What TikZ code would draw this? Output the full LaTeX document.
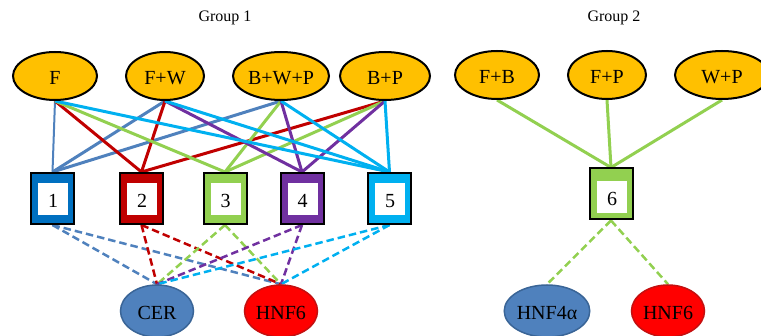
\documentclass[tikz,border=0pt]{standalone}
\usepackage{fontspec}
\setmainfont{Liberation Serif}
\usetikzlibrary{shapes.geometric,backgrounds}

\definecolor{gold}{HTML}{FFC000}
\definecolor{steel}{HTML}{4F81BD}
\definecolor{steeldark}{HTML}{3A6597}
\definecolor{boxblue}{HTML}{0070C0}
\definecolor{darkred}{HTML}{C00000}
\definecolor{hnfred}{HTML}{FF0000}
\definecolor{hnfedge}{HTML}{C41010}
\definecolor{lgreen}{HTML}{92D050}
\definecolor{purp}{HTML}{7030A0}
\definecolor{cyanish}{HTML}{00B0F0}

\begin{document}
\begin{tikzpicture}[x=1pt,y=-1pt,
  labelfont/.style={font=\fontsize{20}{24}\selectfont},
  topell/.style={ellipse,draw=black,line width=2pt,fill=gold,
    minimum width=#1,minimum height=48pt,inner sep=0pt,labelfont,
    text height=18pt,text depth=0pt},
  botell/.style 2 args={ellipse,draw=#2,line width=1.5pt,fill=#1,
    minimum width=73pt,minimum height=52pt,inner sep=0pt,labelfont,
    text height=18pt,text depth=0pt},
  outerbox/.style={rectangle,draw=black,line width=2pt,fill=#1,
    minimum width=43pt,minimum height=51pt,inner sep=0pt},
  innerbox/.style={rectangle,fill=white,minimum width=30pt,
    minimum height=32pt,inner sep=0pt,labelfont,
    text height=17.5pt,text depth=0pt},
  solidlink/.style={draw=#1,line width=3pt},
  dashlink/.style={draw=#1,line width=2.5pt,dash pattern=on 7.5pt off 4pt},
  grouptitle/.style={font=\fontsize{16}{19}\selectfont}
]
\useasboundingbox (0,0) rectangle (761,336);

% group titles
\node[grouptitle] (g1) at (225,18) {Group 1};
\node[grouptitle] (g2) at (614,18) {Group 2};

% treatment ellipses, group 1
\node[topell=84pt] (tF)   at (55,76)  {F};
\node[topell=78pt] (tFW)  at (165,76) {F+W};
\node[topell=96pt] (tBWP) at (281,76) {B+W+P};
\node[topell=90pt] (tBP)  at (385,76) {B+P};

% treatment ellipses, group 2
\node[topell=84pt] (tFB) at (497,75) {F+B};
\node[topell=78pt] (tFP) at (607,75) {F+P};
\node[topell=94pt] (tWP) at (722,75) {W+P};

% cluster boxes
\node[outerbox=boxblue]  (b1) at (52.5,198.5) {};
\node[innerbox] (n1) at (53,199) {1};
\node[outerbox=darkred]  (b2) at (141.5,198.5) {};
\node[innerbox] (n2) at (142,199) {2};
\node[outerbox=lgreen]   (b3) at (225,198.5) {};
\node[innerbox] (n3) at (225.5,199) {3};
\node[outerbox=purp]     (b4) at (302,198.5) {};
\node[innerbox] (n4) at (302.5,199) {4};
\node[outerbox=cyanish]  (b5) at (389.5,198.5) {};
\node[innerbox] (n5) at (390,199) {5};
\node[outerbox=lgreen]   (b6) at (611,194) {};
\node[innerbox] (n6) at (612,197) {6};

% target ellipses
\node[botell={steel}{steeldark}] (cer)  at (157,311) {CER};
\node[botell={hnfred}{hnfedge}]  (hnfa) at (281,311) {HNF6};
\node[botell={steel}{steeldark},minimum width=80pt] (hnf4) at (547,311) {HNF4α};
\node[botell={hnfred}{hnfedge}]  (hnfb) at (668,311) {HNF6};

\begin{scope}[on background layer]
  % treatments to clusters
  \draw[solidlink=steel,line width=2pt] (tF.south) -- (b1.north);
  \draw[solidlink=steel] (tFW.south)  -- (b1.north);
  \draw[solidlink=steel] (tBWP.south) -- (b1.north);
  \draw[solidlink=darkred] (tF.south)   -- (b2.north);
  \draw[solidlink=darkred] (tFW.south)  -- (b2.north);
  \draw[solidlink=darkred] (tBP.south)  -- (b2.north);
  \draw[solidlink=lgreen] (tF.south)   -- (b3.north);
  \draw[solidlink=lgreen] (tBWP.south) -- (b3.north);
  \draw[solidlink=lgreen] (tBP.south)  -- (b3.north);
  \draw[solidlink=purp] (tFW.south)  -- (b4.north);
  \draw[solidlink=purp] (tBWP.south) -- (b4.north);
  \draw[solidlink=purp] (tBP.south)  -- (b4.north);
  \draw[solidlink=cyanish] (tF.south)   -- (b5.north);
  \draw[solidlink=cyanish] (tFW.south)  -- (b5.north);
  \draw[solidlink=cyanish] (tBWP.south) -- (b5.north);
  \draw[solidlink=cyanish] (tBP.south)  -- (b5.north);
  \draw[solidlink=lgreen] (tFB.south) -- (b6.north);
  \draw[solidlink=lgreen] (tFP.south) -- (b6.north);
  \draw[solidlink=lgreen] (tWP.south) -- (b6.north);

  % clusters to targets
  \draw[dashlink=steel]   (b1.south) -- (cer.north);
  \draw[dashlink=steel]   (b1.south) -- (hnfa.north);
  \draw[dashlink=darkred] (b2.south) -- (cer.north);
  \draw[dashlink=darkred] (b2.south) -- (hnfa.north);
  \draw[dashlink=lgreen]  (b3.south) -- (cer.north);
  \draw[dashlink=lgreen]  (b3.south) -- (hnfa.north);
  \draw[dashlink=purp]    (b4.south) -- (cer.north);
  \draw[dashlink=purp]    (b4.south) -- (hnfa.north);
  \draw[dashlink=cyanish] (b5.south) -- (cer.north);
  \draw[dashlink=cyanish] (b5.south) -- (hnfa.north);
  \draw[dashlink=lgreen]  (b6.south) -- (hnf4.north);
  \draw[dashlink=lgreen]  (b6.south) -- (hnfb.north);
\end{scope}
\end{tikzpicture}
\end{document}
